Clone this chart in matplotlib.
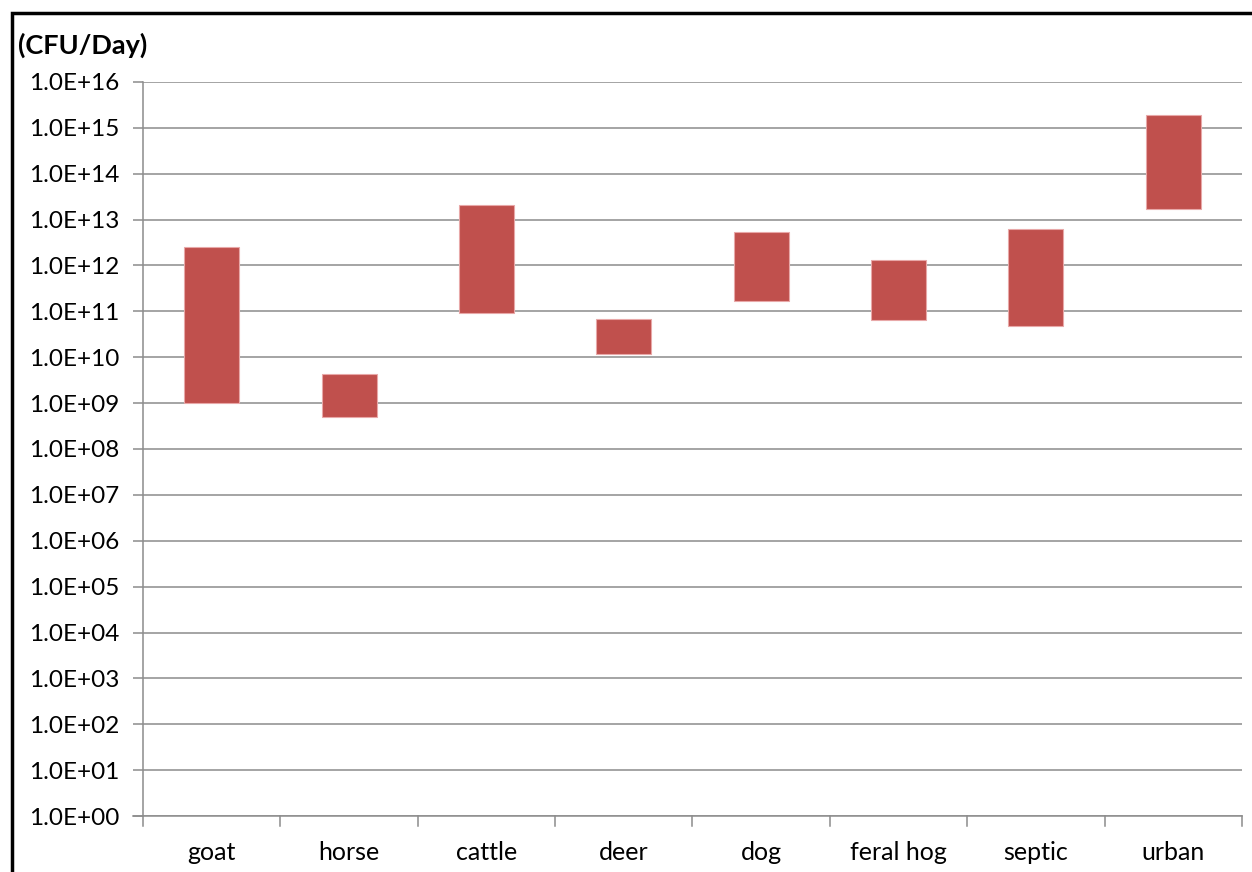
import matplotlib.pyplot as plt
from matplotlib.patches import Rectangle
import numpy as np

plt.rcParams['font.family'] = ['Lato', 'DejaVu Sans']

categories = ['goat', 'horse', 'cattle', 'deer', 'dog', 'feral hog', 'septic', 'urban']
low = [1.0e9, 4.9e8, 9.0e10, 1.2e10, 1.7e11, 6.4e10, 4.9e10, 1.7e13]
high = [2.5e12, 4.3e9, 2.1e13, 6.7e10, 5.5e12, 1.3e12, 6.1e12, 1.9e15]
ytick_vals = [10.0 ** k for k in range(0, 17)]
ytick_labels = ['1.0E+%02d' % k for k in range(0, 17)]

grey = '#8c8c8c'

fig = plt.figure(figsize=(12.52, 8.72), dpi=100)
ax = fig.add_axes([0.1142, 0.0642, 0.992 - 0.1142, 0.906 - 0.0642])

x = np.arange(len(categories))
heights = [h - l for h, l in zip(high, low)]
ax.bar(x, heights, bottom=low, width=0.4, color='#C0504D', edgecolor='#e8a8a8', linewidth=0.8, zorder=3)

ax.set_yscale('log')
ax.set_ylim(1, 1e16)
ax.set_xlim(-0.5, len(categories) - 0.5)
ax.set_yticks(ytick_vals)
ax.set_yticklabels(ytick_labels, fontsize=17.5)
ax.yaxis.set_minor_locator(plt.NullLocator())
ax.grid(axis='y', color=grey, linewidth=1.1, zorder=0)

# category labels between boundary ticks
ax.set_xticks(x)
ax.set_xticklabels(categories, fontsize=18)
ax.tick_params(axis='x', length=0, pad=18)
for b in np.arange(-0.5, len(categories), 1.0):
    ax.plot([b, b], [1, 0.62], color=grey, lw=1.1, clip_on=False)
ax.plot([-0.57, len(categories) - 0.5], [1, 1], color=grey, lw=1.1, clip_on=False)

ax.tick_params(axis='y', length=7, width=1.1, color=grey, pad=10)
for s in ['top', 'right', 'bottom']:
    ax.spines[s].set_visible(False)
ax.spines['left'].set_color(grey)
ax.spines['left'].set_linewidth(1.1)

fig.text(18 / 1252, 1 - 45 / 872, '(CFU/Day)', fontsize=19.5, fontweight='bold', va='center', ha='left')

# outer chart border (cropped on right/bottom)
fig.patches.append(Rectangle((11.5 / 1252, -0.05), 1.1, 1 - 13.5 / 872 + 0.05,
                             transform=fig.transFigure, fill=False, edgecolor='black', linewidth=2.5))

fig.savefig('out.png', dpi=100)
